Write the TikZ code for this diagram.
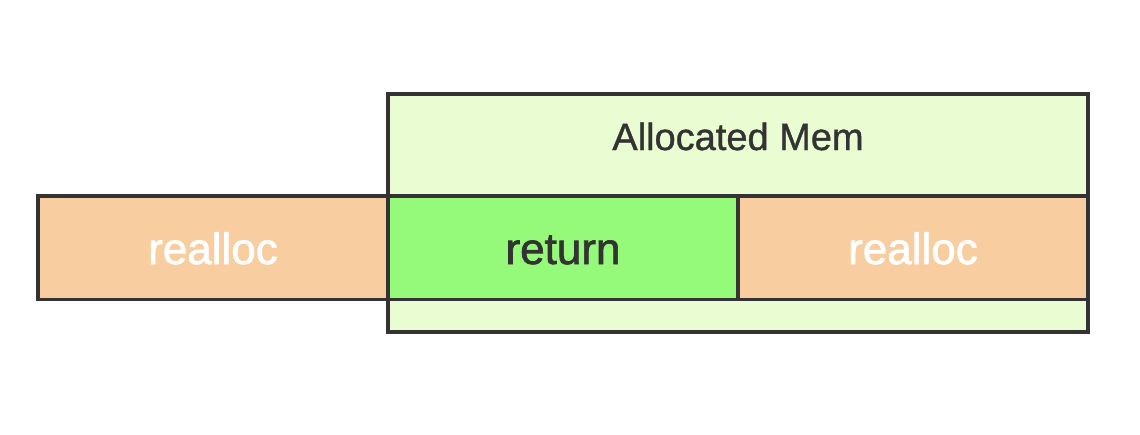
\documentclass[tikz,border=0pt]{standalone}
\usepackage{fontspec}
\setmainfont{Liberation Sans}
\newfontfamily\medfont[FakeBold=1.6]{Liberation Sans}
\newfontfamily\hdrfont[FakeBold=1]{Liberation Sans}
\definecolor{lightg}{HTML}{E9FCD2}
\definecolor{orng}{HTML}{F8CEA0}
\definecolor{brightg}{HTML}{95FA7A}
\definecolor{edge}{HTML}{333333}
\begin{document}
\begin{tikzpicture}[x=1pt,y=-1pt,
  box/.style={draw=edge,line width=3.5pt,line join=miter},
  lbl/.style={font=\medfont\fontsize{44}{48}\selectfont,anchor=base},
  hdr/.style={font=\hdrfont\fontsize{38}{42}\selectfont,text=edge,anchor=base}]
\useasboundingbox (0,0) rectangle (1140,434);
\path[box,fill=lightg] (388,94) rectangle (1088,332);
\node[hdr] (alloc) at (738,150) {Allocated Mem};
\path[box,fill=orng] (38,196) rectangle (388,299.5);
\path[box,fill=brightg] (388,196) rectangle (738,299.5);
\path[box,fill=orng] (738,196) rectangle (1088,299.5);
\node[lbl,text=white] (r1) at (213,264) {realloc};
\node[lbl,text=edge] (ret) at (563,264) {return};
\node[lbl,text=white] (r2) at (913,264) {realloc};
\end{tikzpicture}
\end{document}
